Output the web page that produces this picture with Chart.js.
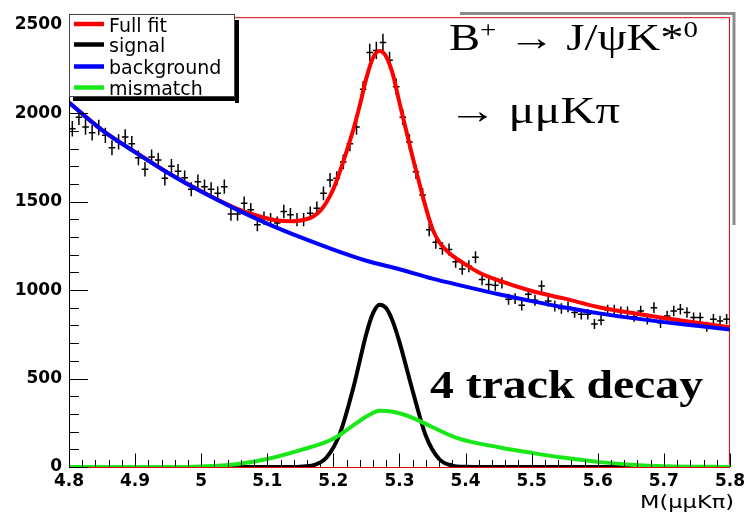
<!DOCTYPE html>
<html>
<head>
<meta charset="utf-8">
<script src="https://cdn.jsdelivr.net/npm/chart.js@4.4.1/dist/chart.umd.min.js"></script>
<style>
  html, body { margin: 0; padding: 0; background: #fff; }
</style>
</head>
<body>
<canvas id="massChart" width="749" height="512"></canvas>
<script>
// Binned data: M(mumuKpi) from 4.8 to 5.8 in 0.01 wide bins
const massLo = 4.8;
const binWidth = 0.01;
const counts = [
  1912, 1978, 1922, 1890, 1920, 1875, 1805, 1838, 1866, 1828,
  1748, 1684, 1753, 1735, 1632, 1700, 1672, 1636, 1570, 1613,
  1585, 1570, 1547, 1585, 1430, 1430, 1491, 1454, 1370, 1407,
  1398, 1379, 1444, 1426, 1398, 1398, 1435, 1463, 1547, 1622,
  1632, 1725, 1828, 1922, 2135, 2344, 2355, 2400, 2300, 2150,
  1978, 1838, 1669, 1538, 1341, 1270, 1235, 1229, 1160, 1120,
  1135, 1186, 1060, 1032, 1028, 1041, 948, 952, 915, 976,
  943, 1023, 938, 910, 896, 905, 873, 864, 864, 808,
  830, 887, 887, 878, 878, 850, 882, 835, 901, 815,
  854, 882, 892, 873, 845, 845, 793, 836, 826, 836
];

// Fit curves at these masses
const fitX = [4.80, 4.85, 4.90, 4.95, 5.00, 5.05, 5.08, 5.10, 5.12, 5.14, 5.16, 5.17, 5.18, 5.19, 5.20,
  5.21, 5.22, 5.23, 5.24, 5.25, 5.26, 5.27, 5.28, 5.29, 5.30, 5.31, 5.32, 5.33, 5.34, 5.35, 5.36,
  5.37, 5.38, 5.40, 5.42, 5.45, 5.50, 5.55, 5.60, 5.65, 5.70, 5.75, 5.80];
const fitY = [2061, 1905, 1781, 1663, 1559, 1467, 1426, 1405, 1392, 1390, 1402, 1418, 1448, 1500, 1572,
  1672, 1785, 1905, 2045, 2200, 2315, 2352, 2320, 2220, 2060, 1905, 1750, 1605, 1465, 1345, 1272,
  1228, 1195, 1145, 1100, 1055, 995, 952, 905, 872, 842, 815, 790];

const bkgX = [4.80, 4.85, 4.90, 4.95, 5.00, 5.05, 5.10, 5.15, 5.20, 5.25, 5.30,
  5.35, 5.40, 5.45, 5.50, 5.55, 5.60, 5.65, 5.70, 5.75, 5.80];
const bkgY = [2060, 1905, 1780, 1662, 1557, 1462, 1376, 1299, 1229, 1166, 1118,
  1065, 1020, 977, 938, 902, 870, 843, 819, 798, 778];

const sigX = [4.80, 5.12, 5.15, 5.17, 5.19, 5.21, 5.23, 5.25, 5.26, 5.27, 5.28, 5.29, 5.30,
  5.32, 5.34, 5.36, 5.38, 5.40, 5.43, 5.80];
const sigY = [0, 0, 2, 10, 55, 190, 445, 755, 870, 918, 897, 822, 706,
  430, 175, 45, 8, 1, 0, 0];

const misX = [4.80, 4.95, 5.00, 5.05, 5.10, 5.15, 5.20, 5.23, 5.25, 5.27, 5.29, 5.32, 5.35,
  5.39, 5.45, 5.50, 5.55, 5.60, 5.65, 5.70, 5.80];
const misY = [0, 0, 3, 14, 45, 95, 160, 235, 285, 318, 312, 278, 225,
  160, 112, 80, 52, 29, 13, 4, 0];

// Axis ticks
const xTickValues = [4.8, 4.9, 5.0, 5.1, 5.2, 5.3, 5.4, 5.5, 5.6, 5.7, 5.8];
const xTickLabels = ["4.8", "4.9", "5", "5.1", "5.2", "5.3", "5.4", "5.5", "5.6", "5.7", "5.8"];
const yTickValues = [0, 500, 1000, 1500, 2000, 2500];
const yTickLabels = ["0", "500", "1000", "1500", "2000", "2500"];

const toXY = (xs, ys) => xs.map((x, i) => ({ x: x, y: ys[i] }));
const binPoints = counts.map((c, i) => ({ x: massLo + (i + 0.5) * binWidth, y: c }));

const SANS = '"DejaVu Sans", sans-serif';
const SERIF = '"Liberation Serif", "Times New Roman", serif';

// draw a text squeezed/stretched horizontally to a given width
function fitText(ctx, runs, x, y, width) {
  ctx.save();
  let total = 0;
  runs.forEach(r => { ctx.font = r.font; r.w = ctx.measureText(r.t).width; total += r.w; });
  ctx.translate(x, y);
  ctx.scale(width / total, 1);
  ctx.textAlign = "left";
  ctx.textBaseline = "alphabetic";
  let cx = 0;
  runs.forEach(r => {
    ctx.font = r.font;
    ctx.fillText(r.t, cx, -(r.rise || 0));
    cx += r.w;
  });
  ctx.restore();
}

const rootStyle = {
  id: "rootStyle",
  beforeDatasetsDraw(chart) {
    const { ctx, chartArea: a, scales } = chart;
    const xs = scales.x, ys = scales.y;
    ctx.save();
    // red frame
    ctx.strokeStyle = "#e00000";
    ctx.lineWidth = 1;
    ctx.strokeRect(a.left + 0.5, a.top + 0.5, a.right - a.left - 1, a.bottom - a.top);
    // data points with error bars
    ctx.strokeStyle = "#000";
    ctx.lineWidth = 1.5;
    ctx.beginPath();
    binPoints.forEach(p => {
      const e = Math.sqrt(p.y);
      const px = xs.getPixelForValue(p.x);
      const py = ys.getPixelForValue(p.y);
      ctx.moveTo(xs.getPixelForValue(p.x - binWidth / 2), py);
      ctx.lineTo(xs.getPixelForValue(p.x + binWidth / 2), py);
      ctx.moveTo(px, ys.getPixelForValue(p.y - e));
      ctx.lineTo(px, ys.getPixelForValue(p.y + e));
    });
    ctx.stroke();
    ctx.restore();
  },
  afterDatasetsDraw(chart) {
    const { ctx, chartArea: a, scales } = chart;
    const xs = scales.x, ys = scales.y;
    ctx.save();
    ctx.strokeStyle = "#000";
    ctx.lineWidth = 1;
    ctx.beginPath();
    // y axis line and inward ticks
    ctx.moveTo(a.left + 0.5, a.top);
    ctx.lineTo(a.left + 0.5, a.bottom);
    for (let v = 0; v <= 2500; v += 100) {
      const py = Math.round(ys.getPixelForValue(v)) + 0.5;
      const len = v % 500 === 0 ? 19 : 10;
      ctx.moveTo(a.left, py);
      ctx.lineTo(a.left + len, py);
    }
    // x ticks, every 0.02, major every 0.1
    for (let k = 0; k <= 50; k++) {
      const px = Math.round(xs.getPixelForValue(massLo + k * 0.02)) + 0.5;
      const len = k % 5 === 0 ? 13.5 : 7;
      ctx.moveTo(px, a.bottom);
      ctx.lineTo(px, a.bottom - len);
    }
    ctx.stroke();
    ctx.restore();
  },
  afterDraw(chart) {
    const { ctx } = chart;
    ctx.save();

    // legend box with shadow
    const lx = 69, ly = 14, lw = 166, lh = 83;
    ctx.fillStyle = "#000";
    ctx.fillRect(lx + lw, ly + 6, 4, lh);
    ctx.fillRect(lx + 4, ly + lh, lw, 4);
    ctx.fillStyle = "#fff";
    ctx.fillRect(lx, ly, lw, lh);
    ctx.strokeStyle = "#444";
    ctx.lineWidth = 1;
    ctx.strokeRect(lx + 0.5, ly + 0.5, lw - 1, lh - 1);
    ctx.save();
    ctx.beginPath();
    ctx.rect(lx + 1, ly + 1, lw - 2, lh - 2);
    ctx.clip();
    const rows = [24, 44.5, 66.5, 87.5];
    chart.data.datasets.slice(0, 4).forEach((ds, i) => {
      ctx.strokeStyle = ds.borderColor;
      ctx.lineWidth = 4.5;
      ctx.beginPath();
      ctx.moveTo(74, rows[i]);
      ctx.lineTo(104, rows[i]);
      ctx.stroke();
      ctx.fillStyle = "#000";
      ctx.font = "19px " + SANS;
      ctx.textAlign = "left";
      ctx.textBaseline = "alphabetic";
      ctx.fillText(ds.label, 109, rows[i] + 7.5);
    });
    ctx.restore();

    // grey text box border (top right)
    ctx.strokeStyle = "#8c8c8c";
    ctx.lineWidth = 3;
    ctx.beginPath();
    ctx.moveTo(460, 13.5);
    ctx.lineTo(734, 13.5);
    ctx.lineTo(734, 225);
    ctx.stroke();

    // decay labels
    ctx.fillStyle = "#000";
    fitText(ctx, [
      { t: "B", font: "37px " + SERIF },
      { t: "+", font: "23px " + SERIF, rise: 13 },
      { t: " \u2192 J/\u03c8K*", font: "37px " + SERIF },
      { t: "0", font: "23px " + SERIF, rise: 13 }
    ], 449, 50, 249);
    fitText(ctx, [{ t: "\u2192 \u03bc\u03bcK\u03c0", font: "37px " + SERIF }], 448, 123, 172);
    fitText(ctx, [{ t: "4 track decay", font: "bold 41px " + SERIF }], 430, 398, 273);

    // axis title
    fitText(ctx, [{ t: "M(\u03bc\u03bcK\u03c0)", font: "17px " + SANS }], 640, 508, 94);
    ctx.restore();
  }
};

const curve = (label, xs, ys, color, order) => ({
  label: label,
  data: toXY(xs, ys),
  borderColor: color,
  backgroundColor: color,
  borderWidth: 4,
  pointRadius: 0,
  fill: false,
  cubicInterpolationMode: "monotone",
  order: order
});

new Chart(document.getElementById("massChart").getContext("2d"), {
  type: "line",
  data: {
    datasets: [
      curve("Full fit", fitX, fitY, "#ff0000", 4),
      curve("signal", sigX, sigY, "#000000", 3),
      curve("background", bkgX, bkgY, "#0000ff", 2),
      curve("mismatch", misX, misY, "#18e818", 1),
      { label: "data", data: binPoints, showLine: false, pointRadius: 0, order: 5 }
    ]
  },
  options: {
    responsive: false,
    animation: false,
    devicePixelRatio: 1,
    layout: { padding: { top: 14, right: 16, left: 0, bottom: 0 } },
    plugins: { legend: { display: false }, tooltip: { enabled: false } },
    scales: {
      x: {
        type: "linear",
        min: 4.8,
        max: 5.8,
        afterBuildTicks: s => { s.ticks = xTickValues.map(v => ({ value: v })); },
        afterFit: s => { s.height = 45; },
        grid: { display: false, drawTicks: false },
        border: { display: false },
        ticks: {
          autoSkip: false,
          maxRotation: 0,
          padding: 4,
          color: "#000",
          font: { family: SANS, weight: "bold", size: 17 },
          callback: (v, i) => xTickLabels[i]
        }
      },
      y: {
        type: "linear",
        min: 0,
        max: 2543,
        afterBuildTicks: s => { s.ticks = yTickValues.map(v => ({ value: v })); },
        afterFit: s => { s.width = 69; },
        grid: { display: false, drawTicks: false },
        border: { display: false },
        ticks: {
          padding: 7,
          color: "#000",
          font: { family: SANS, weight: "bold", size: 17 },
          callback: (v, i) => yTickLabels[i]
        }
      }
    }
  },
  plugins: [rootStyle]
});
</script>
</body>
</html>
